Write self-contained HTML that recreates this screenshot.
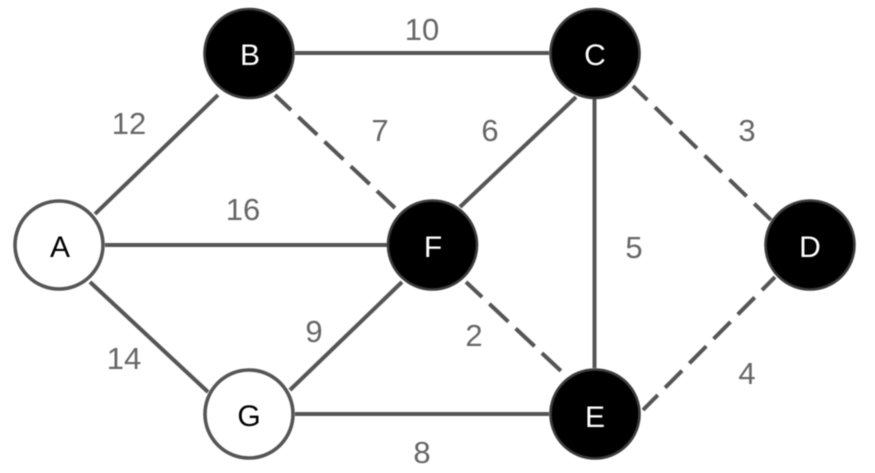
<!DOCTYPE html>
<html>
<head>
<meta charset="utf-8">
<style>
html,body{margin:0;padding:0;background:#fff;width:875px;height:473px;overflow:hidden}
svg{display:block;filter:blur(.65px)}
text{font-family:"Liberation Sans",sans-serif;text-anchor:middle}
.w{font-size:31px;fill:#666}
.n{font-size:30px}
</style>
</head>
<body>
<svg width="875" height="473" viewBox="0 0 875 473" xmlns="http://www.w3.org/2000/svg">
<g stroke="#555" stroke-width="4" fill="none">
<line x1="95" y1="214" x2="218" y2="95"/>
<line x1="105" y1="245" x2="388" y2="245"/>
<line x1="90" y1="282" x2="208" y2="392"/>
<line x1="290" y1="390" x2="402" y2="282"/>
<line x1="295" y1="414" x2="549" y2="414"/>
<line x1="295" y1="53" x2="549" y2="53"/>
<line x1="460" y1="207" x2="576" y2="97"/>
<line x1="594.5" y1="99" x2="594.5" y2="368"/>
<line x1="275" y1="95" x2="395" y2="208" stroke-dasharray="26 10" stroke-dashoffset="4"/>
<line x1="633" y1="86" x2="771" y2="220" stroke-dasharray="24 10.6" stroke-dashoffset="4"/>
<line x1="466" y1="282" x2="561" y2="371" stroke-dasharray="26 10" stroke-dashoffset="4"/>
<line x1="643" y1="410" x2="775" y2="277" stroke-dasharray="24 10.4" stroke-dashoffset="3"/>
</g>
<g stroke="#555" stroke-width="3.6">
<circle cx="59" cy="245" r="44" fill="#fff"/>
<circle cx="249" cy="414" r="44" fill="#fff"/>
</g>
<g stroke="#3c3c3c" stroke-width="2.6" fill="#000">
<circle cx="249" cy="53.5" r="44.5"/>
<circle cx="595" cy="53.5" r="44.5"/>
<circle cx="432.5" cy="245" r="44.5"/>
<circle cx="810" cy="245" r="44.5"/>
<circle cx="595" cy="414" r="44.5"/>
</g>
<g class="n">
<text x="60" y="257" fill="#000">A</text>
<text x="250" y="65" fill="#fff">B</text>
<text x="595" y="65" fill="#fff">C</text>
<text x="810" y="257" fill="#fff">D</text>
<text x="595" y="427" fill="#fff">E</text>
<text x="433" y="257" fill="#fff">F</text>
<text x="249" y="426" fill="#000">G</text>
</g>
<g class="w">
<text x="129" y="134">12</text>
<text x="422" y="40">10</text>
<text x="380" y="141">7</text>
<text x="490" y="141">6</text>
<text x="747" y="141">3</text>
<text x="243" y="220">16</text>
<text x="634" y="258">5</text>
<text x="314" y="342">9</text>
<text x="474" y="346">2</text>
<text x="124" y="369">14</text>
<text x="747" y="384">4</text>
<text x="422" y="463">8</text>
</g>
</svg>
</body>
</html>
